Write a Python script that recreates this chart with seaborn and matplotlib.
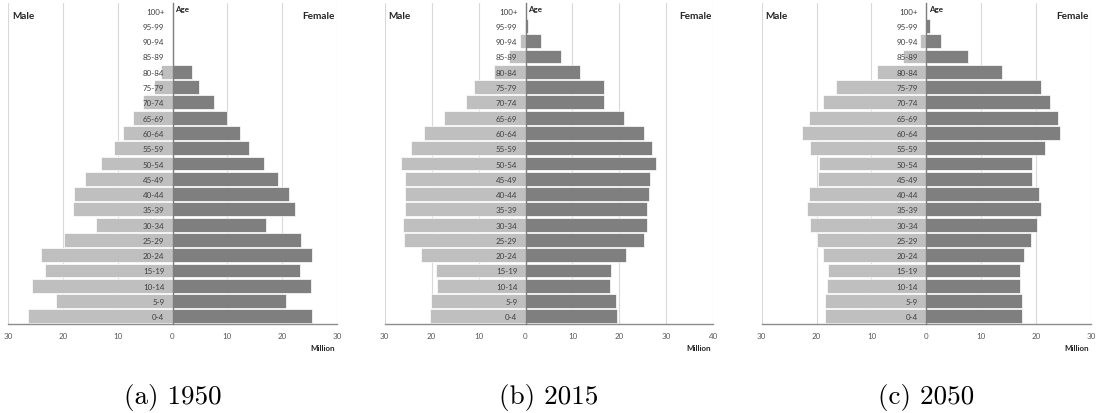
import matplotlib
matplotlib.use("Agg")
import matplotlib.pyplot as plt
import seaborn as sns
import pandas as pd

# Age groups, youngest first
age_groups = ["0-4", "5-9", "10-14", "15-19", "20-24", "25-29", "30-34", "35-39",
              "40-44", "45-49", "50-54", "55-59", "60-64", "65-69", "70-74",
              "75-79", "80-84", "85-89", "90-94", "95-99", "100+"]

# Population in millions, per age group
male_1950 = [26.3, 21.3, 25.7, 23.2, 24.0, 19.8, 14.0, 18.1, 17.9, 16.0, 13.1,
             10.6, 9.0, 7.2, 5.4, 3.3, 2.1, 0.0, 0.0, 0.0, 0.0]
female_1950 = [25.4, 20.7, 25.2, 23.3, 25.4, 23.5, 17.1, 22.3, 21.3, 19.3, 16.6,
               14.0, 12.3, 10.0, 7.5, 4.8, 3.6, 0.0, 0.0, 0.0, 0.0]

male_2015 = [20.4, 20.1, 18.8, 19.1, 22.2, 25.8, 26.2, 25.6, 25.7, 25.7, 26.5,
             24.3, 21.6, 17.4, 12.6, 10.9, 6.7, 3.5, 1.1, 0.1, 0.0]
female_2015 = [19.4, 19.2, 18.0, 18.3, 21.4, 25.2, 25.8, 25.8, 26.2, 26.5, 27.9,
               26.9, 25.2, 20.9, 16.7, 16.7, 11.6, 7.6, 3.2, 0.6, 0.1]

male_2050 = [18.4, 18.5, 18.1, 18.0, 18.8, 20.0, 21.2, 21.8, 21.3, 19.8, 19.6,
             21.2, 22.7, 21.3, 18.9, 16.5, 9.0, 4.2, 1.2, 0.1, 0.0]
female_2050 = [17.4, 17.4, 17.1, 17.0, 17.8, 19.1, 20.2, 20.9, 20.6, 19.3, 19.3,
               21.6, 24.3, 23.9, 22.5, 20.8, 13.8, 7.5, 2.7, 0.6, 0.0]

captions = ["(a) 1950", "(b) 2015", "(c) 2050"]
x_ranges = [(-30, 30), (-30, 40), (-30, 30)]
x_ticks = [[-30, -20, -10, 0, 10, 20, 30],
           [-30, -20, -10, 0, 10, 20, 30, 40],
           [-30, -20, -10, 0, 10, 20, 30]]

MALE_COLOR = "#bfbfbf"
FEMALE_COLOR = "#7f7f7f"
TEXT_COLOR = "#404040"

sns.set_theme(style="white")
plt.rcParams["font.family"] = ["Lato", "DejaVu Sans"]

W, H = 1096, 414
fig = plt.figure(figsize=(W / 100, H / 100), dpi=100)

# panel rectangles in pixels: left, right, top, bottom
panel_px = [(8, 337, 4, 325), (384.7, 713.3, 4, 325), (761.7, 1091, 4, 325)]

series = [(male_1950, female_1950), (male_2015, female_2015), (male_2050, female_2050)]
order = age_groups[::-1]  # oldest at the top

for i, ((male, female), (l, r, t, b)) in enumerate(zip(series, panel_px)):
    ax = fig.add_axes([l / W, 1 - b / H, (r - l) / W, (b - t) / H])
    df = pd.DataFrame({
        "age": age_groups * 2,
        "value": [-v for v in male] + list(female),
        "sex": ["Male"] * len(age_groups) + ["Female"] * len(age_groups),
    })
    sns.barplot(data=df[df.sex == "Male"], x="value", y="age", order=order,
                color=MALE_COLOR, saturation=1, width=0.9, edgecolor="white",
                linewidth=0.5, errorbar=None, ax=ax, zorder=2)
    sns.barplot(data=df[df.sex == "Female"], x="value", y="age", order=order,
                color=FEMALE_COLOR, saturation=1, width=0.9, edgecolor="white",
                linewidth=0.5, errorbar=None, ax=ax, zorder=2)

    ax.set_xlim(*x_ranges[i])
    ax.set_ylim(len(age_groups) - 0.5, -0.5)
    ax.set_xlabel("")
    ax.set_ylabel("")

    ax.set_xticks(x_ticks[i])
    ax.set_xticklabels([str(abs(v)) for v in x_ticks[i]])
    ax.grid(axis="x", color="#d9d9d9", linewidth=0.8, zorder=0)
    ax.grid(axis="y", visible=False)
    ax.set_axisbelow(True)
    # age labels sit on top of the bars, next to the zero line
    ax.yaxis.set_zorder(4)

    ax.spines["left"].set_position(("data", 0))
    ax.spines["left"].set_color("#7f7f7f")
    ax.spines["left"].set_linewidth(1.0)
    ax.spines["left"].set_zorder(3)
    ax.spines["bottom"].set_color("#8c8c8c")
    ax.spines["bottom"].set_linewidth(1.0)
    ax.spines["top"].set_visible(False)
    ax.spines["right"].set_visible(False)

    ax.tick_params(axis="x", length=0, pad=6, labelsize=5.8, labelcolor="#595959")
    ax.tick_params(axis="y", length=0, pad=5.8, labelsize=5.8, labelcolor=TEXT_COLOR)

    ax.text(0.012, 0.96, "Male", transform=ax.transAxes, ha="left", va="center",
            fontsize=7.2, fontweight="bold", color="#262626")
    ax.text(0.994, 0.96, "Female", transform=ax.transAxes, ha="right", va="center",
            fontsize=7.2, fontweight="bold", color="#262626")
    ax.annotate("Age", xy=(0, 0.983), xycoords=("data", "axes fraction"),
                xytext=(2, 0), textcoords="offset points", ha="left", va="center",
                fontsize=5.8, fontweight="bold", color="#262626", zorder=5)
    ax.text(0.994, -0.072, "Million", transform=ax.transAxes, ha="right", va="center",
            fontsize=5.8, fontweight="bold", color="#262626")

    fig.text((l + r) / 2 / W, 1 - 398 / H, captions[i], ha="center", va="center",
             fontsize=19.5, family="cmr10", color="black")

fig.savefig("out.png", dpi=100, facecolor="white")
